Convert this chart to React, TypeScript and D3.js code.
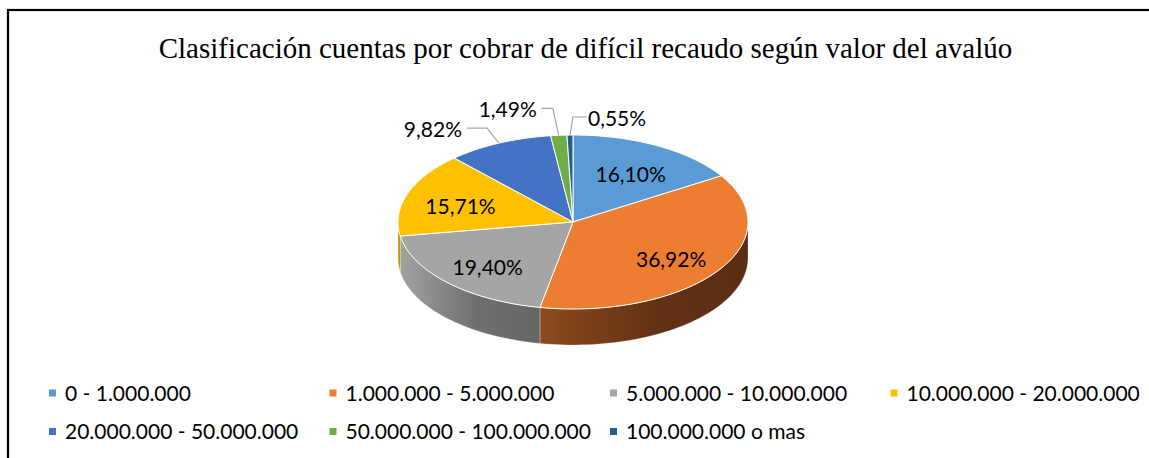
import React from "react";
import * as d3 from "d3";

const title = "Clasificación cuentas por cobrar de difícil recaudo según valor del avalúo";
const categories = [
  "0 - 1.000.000",
  "1.000.000 - 5.000.000",
  "5.000.000 - 10.000.000",
  "10.000.000 - 20.000.000",
  "20.000.000 - 50.000.000",
  "50.000.000 - 100.000.000",
  "100.000.000 o mas",
];
const values = [16.1, 36.92, 19.4, 15.71, 9.82, 1.49, 0.55];
const topColors = ["#5B9BD5", "#ED7D31", "#A5A5A5", "#FFC000", "#4472C4", "#70AD47", "#255E91"];
const sideLight = ["#4A7FB0", "#8E4B1F", "#A2A2A2", "#D9A400", "#38609F", "#5B8E3A", "#1E4D77"];
const sideDark = ["#2F5479", "#5A2D12", "#666666", "#B88A00", "#27437A", "#3F6629", "#14365A"];

// layout
const W = 1149;
const H = 458;
const cx = 573;
const cy = 222;
const rx = 175;
const ry = 87;
const depth = 36;
const labelR = 0.68;
const labelDy = 3;
const FONT = "Lato, 'Open Sans', sans-serif";

// outside label elbow offsets (from slice edge point)
const outsideLayout: Record<number, { ex: number; ey: number; run: number }> = {
  4: { ex: -12, ey: -15, run: -20 },
  5: { ex: -6, ey: -27, run: -11 },
  6: { ex: 3, ey: -18, run: 14 },
};

const fmt = (v: number) => v.toFixed(2).replace(".", ",") + "%";

const pt = (a: number, r = 1, dz = 0): [number, number] => [
  cx + rx * r * Math.sin(a),
  cy - ry * r * Math.cos(a) + dz,
];

export default function App() {
  const arcs = d3
    .pie<number>()
    .sort(null)
    .value((d) => d)
    .startAngle(0)
    .endAngle(2 * Math.PI)(values);

  const topPath = (a0: number, a1: number) => {
    const n = Math.max(2, Math.ceil(((a1 - a0) / (2 * Math.PI)) * 200));
    const pts = d3.range(n + 1).map((i) => pt(a0 + ((a1 - a0) * i) / n));
    return `M${cx},${cy}L` + pts.map((p) => p.join(",")).join("L") + "Z";
  };

  const sides = arcs
    .map((a, i) => {
      const s = Math.max(a.startAngle, Math.PI / 2);
      const e = Math.min(a.endAngle, (3 * Math.PI) / 2);
      if (e <= s) return null;
      const n = Math.max(2, Math.ceil(((e - s) / (2 * Math.PI)) * 200));
      const top = d3.range(n + 1).map((k) => pt(s + ((e - s) * k) / n));
      const bottom = top.slice().reverse().map(([x, y]) => [x, y + depth]);
      const xs = top.map((p) => p[0]);
      return {
        i,
        d: "M" + top.concat(bottom as [number, number][]).map((p) => p.join(",")).join("L") + "Z",
        x0: d3.min(xs)!,
        x1: d3.max(xs)!,
      };
    })
    .filter(Boolean) as { i: number; d: string; x0: number; x1: number }[];

  const colX = d3.scaleLinear().domain([0, 1]).range([49, 329.5]);
  const rowY = d3.scaleLinear().domain([0, 1]).range([393, 431.5]);

  return (
    <svg
      width={W}
      height={H}
      style={{ position: "absolute", left: 0, top: 0, background: "#fff" }}
    >
      <defs>
        {sides.map((s) => (
          <linearGradient
            key={s.i}
            id={`side${s.i}`}
            gradientUnits="userSpaceOnUse"
            x1={s.x0}
            x2={s.x1}
            y1={0}
            y2={0}
          >
            <stop offset="0" stopColor={sideLight[s.i]} />
            <stop offset="0.55" stopColor={d3.interpolateRgb(sideLight[s.i], sideDark[s.i])(0.85)} />
            <stop offset="1" stopColor={sideDark[s.i]} />
          </linearGradient>
        ))}
      </defs>
      <rect x={8} y={10} width={W + 10} height={H + 10} fill="#fff" stroke="#000" strokeWidth={2.2} />
      <text
        x={585.5}
        y={58}
        textAnchor="middle"
        fontFamily="'Liberation Serif', 'Times New Roman', serif"
        fontSize={29}
        fill="#000"
      >
        {title}
      </text>

      {sides.map((s) => (
        <path key={s.i} d={s.d} fill={`url(#side${s.i})`} stroke="#fff" strokeOpacity={0.35} strokeWidth={0.8} />
      ))}
      {arcs.map((a, i) => (
        <path
          key={i}
          d={topPath(a.startAngle, a.endAngle)}
          fill={topColors[i]}
          stroke="#fff"
          strokeWidth={1}
          strokeLinejoin="round"
        />
      ))}

      {arcs.map((a, i) => {
        const mid = (a.startAngle + a.endAngle) / 2;
        const lay = outsideLayout[i];
        if (!lay) {
          const [x, y] = pt(mid, labelR, labelDy);
          return (
            <text
              key={i}
              x={x}
              y={y}
              textAnchor="middle"
              dominantBaseline="central"
              fontFamily={FONT}
              fontSize={21}
              fill="#000"
            >
              {fmt(values[i])}
            </text>
          );
        }
        const [ex0, ey0] = pt(mid);
        const elx = ex0 + lay.ex;
        const ely = ey0 + lay.ey;
        const endx = elx + lay.run;
        const right = lay.run > 0;
        return (
          <g key={i}>
            <polyline
              points={`${ex0},${ey0} ${elx},${ely} ${endx},${ely}`}
              fill="none"
              stroke="#A6A6A6"
              strokeWidth={1.2}
            />
            <text
              x={endx + (right ? 1 : -5)}
              y={ely}
              textAnchor={right ? "start" : "end"}
              dominantBaseline="central"
              fontFamily={FONT}
              fontSize={21}
              fill="#000"
            >
              {fmt(values[i])}
            </text>
          </g>
        );
      })}

      {categories.map((c, i) => {
        const col = i % 4;
        const row = Math.floor(i / 4);
        const x = colX(col);
        const y = rowY(row);
        return (
          <g key={c}>
            <rect x={x} y={y - 3.5} width={7} height={7} fill={topColors[i]} />
            <text x={x + 16} y={y + 7.5} fontFamily={FONT} fontSize={21} fill="#000">
              {c}
            </text>
          </g>
        );
      })}
    </svg>
  );
}
